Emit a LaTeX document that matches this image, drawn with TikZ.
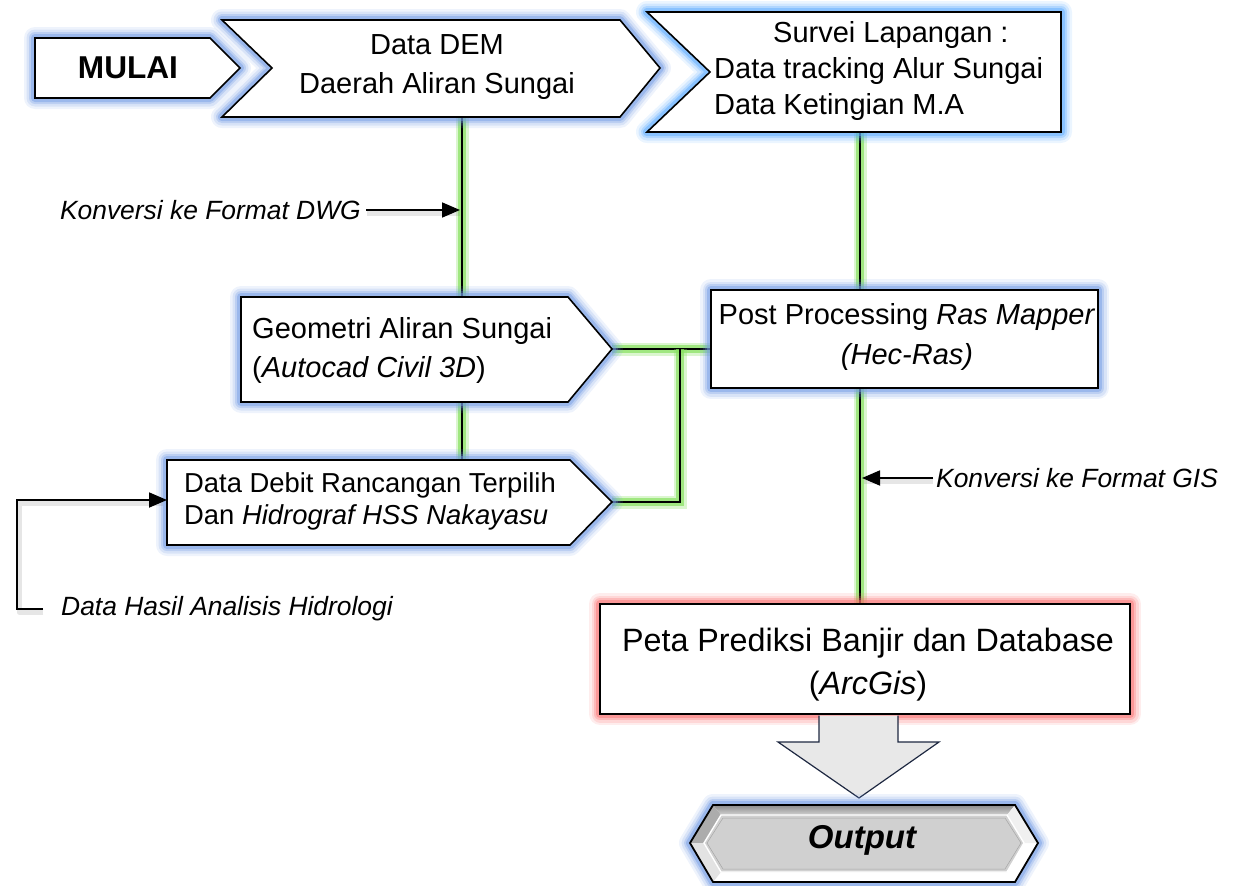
\documentclass[tikz,border=0pt]{standalone}
\usepackage{fontspec}
\setmainfont{Liberation Sans}
\usetikzlibrary{arrows.meta}

\definecolor{glowblue}{RGB}{115,155,228}
\definecolor{glowsky}{RGB}{90,170,255}
\definecolor{glowred}{RGB}{250,110,110}
\definecolor{glowgreen}{RGB}{135,225,95}
\definecolor{arrowfill}{RGB}{232,232,232}
\definecolor{arrowline}{RGB}{30,40,65}
\definecolor{hexface}{RGB}{208,208,208}

% soft coloured halo behind a closed outline
\newcommand\halo[2]{%
  \foreach \w/\o in {22/0.12,17/0.18,12/0.28,8/0.45}{%
    \draw[#1,line width=\w pt,opacity=\o,line join=round] #2;}}
% haloed white panel with black outline
\newcommand\panel[2]{\halo{#1}{#2}\draw[box] #2;}
% black connector with green glow
\newcommand\wire[1]{\draw[wireglow,line width=13pt,opacity=0.3] #1; \draw[wireglow] #1; \draw[wire] #1;}

\begin{document}
\begin{tikzpicture}[x=1pt,y=-1pt,
  box/.style={draw=black,fill=white,line width=1.6pt,line join=miter},
  wire/.style={draw=black,line width=2.6pt},
  wireglow/.style={draw=glowgreen,line width=8pt,opacity=0.7},
  pointer/.style={draw=black,line width=1.8pt,-{Triangle[length=18pt,width=15pt]}},
  pshadow/.style={draw=gray,line width=5pt,opacity=0.2},
  txt/.style={inner sep=0pt,font=\fontsize{29}{39}\selectfont},
  lbl/.style={inner sep=0pt,font=\fontsize{26.4}{30}\selectfont\itshape}]

\useasboundingbox (0,0) rectangle (1235,886);

% connection points on the panels
\coordinate (dem-s)  at (462,117);
\coordinate (geo-n)  at (462,297);
\coordinate (geo-s)  at (462,402);
\coordinate (deb-n)  at (462,460);
\coordinate (geo-e)  at (612,349);
\coordinate (post-w) at (711,349);
\coordinate (deb-e)  at (612,502);
\coordinate (deb-w)  at (167,500);
\coordinate (junc)   at (680,349);
\coordinate (sur-s)  at (860,132);
\coordinate (post-n) at (860,290);
\coordinate (post-s) at (860,388);
\coordinate (peta-n) at (860,604);
\coordinate (dwg-hit) at (460,210);
\coordinate (gis-hit) at (862,478);

% connectors
\wire{(dem-s) -- (geo-n)}
\wire{(geo-s) -- (deb-n)}
\wire{(geo-e) -- (post-w)}
\wire{(deb-e) -| (junc)}
\wire{(sur-s) -- (post-n)}
\wire{(post-s) -- (peta-n)}

% panels
\panel{glowblue}{(35,38) -- (210,38) -- (240,68) -- (210,98) -- (35,98) -- cycle}
\panel{glowblue}{(222,20) -- (620,20) -- (660,68) -- (620,117) -- (222,117) -- (272,68) -- cycle}
\panel{glowsky}{(647,12) -- (1061,12) -- (1061,132) -- (647,132) -- (710,72) -- cycle}
\panel{glowblue}{(241,297) -- (568,297) -- (612,349) -- (568,402) -- (241,402) -- cycle}
\panel{glowblue}{(167,460) -- (570,460) -- (612,502) -- (570,545) -- (167,545) -- cycle}
\panel{glowblue}{(711,290) rectangle (1098,388)}
\panel{glowred}{(600,604) rectangle (1130,714)}

% panel texts
\node[txt,font=\fontsize{31.6}{36}\selectfont\bfseries] (mulai) at (128,68) {MULAI};
\node[txt,align=center] (dem) at (437,67) {Data DEM\\Daerah Aliran Sungai};
\node[txt,align=left,anchor=west,font=\fontsize{29}{36}\selectfont] (survei) at (714,71)
  {\hspace*{59pt}Survei Lapangan :\\Data tracking Alur Sungai\\Data Ketingian M.A};
\node[txt,align=left,anchor=west] (geo) at (252,350)
  {Geometri Aliran Sungai\\(\textit{Autocad Civil 3D})};
\node[txt,align=left,anchor=west,font=\fontsize{27.4}{32}\selectfont] (debit) at (184,501)
  {Data Debit Rancangan Terpilih\\Dan \textit{Hidrograf HSS Nakayasu}};
\node[txt,align=center,font=\fontsize{29}{40}\selectfont] (post) at (907,337)
  {Post Processing \textit{Ras Mapper}\\\textit{(Hec-Ras)}};
\node[txt,align=center,font=\fontsize{32.3}{43}\selectfont] (peta) at (868,665)
  {Peta Prediksi Banjir dan Database\\(\textit{ArcGis})};

% side labels and their pointers
\node[lbl,anchor=east] (dwg) at (361,210) {Konversi ke Format DWG};
\node[lbl,anchor=west] (gis) at (936,478) {Konversi ke Format GIS};
\node[lbl,anchor=west] (hasil) at (61,609) {Data Hasil Analisis Hidrologi};

\draw[pshadow] ([shift={(6pt,-3pt)}]dwg.east) -- ([shift={(0pt,-3pt)}]dwg-hit);
\draw[pointer] ([xshift=5pt]dwg.east) -- (dwg-hit);
\draw[pshadow] ([shift={(-3pt,-3pt)}]gis.west) -- ([shift={(2pt,-3pt)}]gis-hit);
\draw[pointer] ([xshift=-3pt]gis.west) -- (gis-hit);
\draw[pshadow,line join=round] ([shift={(-18pt,-3pt)}]hasil.west) -| ([shift={(-148pt,-3pt)}]deb-w) |- ([shift={(-4pt,-3pt)}]deb-w);
\draw[pointer,line join=miter] ([xshift=-18pt]hasil.west) -| ([xshift=-150pt]deb-w) |- (deb-w);

% broad arrow down to the output
\draw[fill=arrowfill,draw=arrowline,line width=1.2pt,line join=miter]
  (819,715.5) -- (819,742) -- (778,742) -- (859,798) -- (939,742) -- (898,742) -- (898,715.5);

% bevelled output plate
\halo{glowblue}{(690,843) -- (713,805) -- (1015,805) -- (1038,843) -- (1015,882) -- (713,882) -- cycle}
\fill[white] (690,843) -- (713,805) -- (1015,805) -- (1038,843) -- (1015,882) -- (713,882) -- cycle;
\shade[top color=gray!90,bottom color=gray!35] (713,805) -- (1015,805) -- (1007,815) -- (721,815) -- cycle;
\fill[gray!65] (690,843) -- (713,805) -- (721,815) -- (704,843) -- cycle;
\fill[gray!22] (690,843) -- (704,843) -- (721,872) -- (713,882) -- cycle;
\fill[gray!12] (1038,843) -- (1024,843) -- (1007,815) -- (1015,805) -- cycle;
\draw[fill=hexface,draw=white,line width=1.4pt]
  (704,843) -- (721,815) -- (1007,815) -- (1024,843) -- (1007,872) -- (721,872) -- cycle;
\draw[draw=gray!70,line width=0.5pt]
  (707,843) -- (723,818) -- (1005,818) -- (1021,843) -- (1005,869) -- (723,869) -- cycle;
\draw[black,line width=1.8pt,line join=miter]
  (690,843) -- (713,805) -- (1015,805) -- (1038,843) -- (1015,882) -- (713,882) -- cycle;
\node[txt,font=\fontsize{33}{36}\selectfont\bfseries\itshape] (output) at (862,840) {Output};

\end{tikzpicture}
\end{document}
